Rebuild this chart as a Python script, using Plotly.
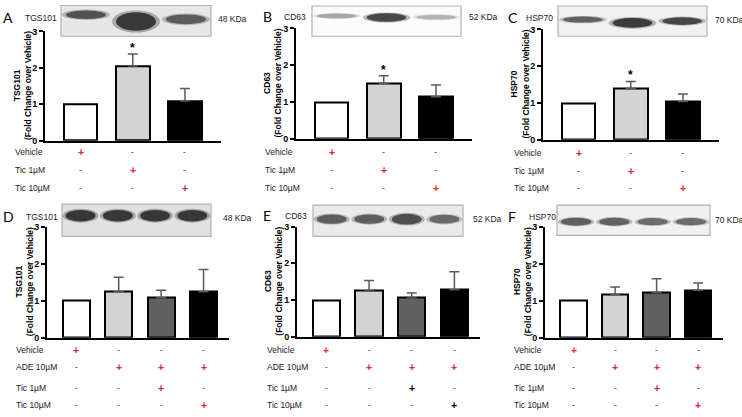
import plotly.graph_objects as go

W, H = 742, 417
FONT = "Liberation Sans, Arial, sans-serif"
RED = "#e3262f"

# treatment design (rows = labels, columns = bars)
top_rows = ["Vehicle", "Tic 1µM", "Tic 10µM"]
top_design = [[1, 0, 0], [0, 1, 0], [0, 0, 1]]
bottom_rows = ["Vehicle", "ADE 10µM", "Tic 1µM", "Tic 10µM"]
bottom_design = [[1, 0, 0, 0], [0, 1, 1, 1], [0, 0, 1, 0], [0, 0, 0, 1]]

# fold change over vehicle (mean) and upper error (SEM)
tsg101_tic = [1.0, 2.05, 1.09]
tsg101_tic_err = [None, 0.33, 0.34]
cd63_tic = [1.0, 1.51, 1.14]
cd63_tic_err = [None, 0.20, 0.32]
hsp70_tic = [1.0, 1.39, 1.04]
hsp70_tic_err = [None, 0.19, 0.20]
tic_signif = [False, True, False]

tsg101_ade = [1.0, 1.25, 1.08, 1.24]
tsg101_ade_err = [None, 0.38, 0.20, 0.60]
cd63_ade = [1.0, 1.25, 1.06, 1.28]
cd63_ade_err = [None, 0.28, 0.13, 0.49]
hsp70_ade = [1.0, 1.17, 1.22, 1.28]
hsp70_ade_err = [None, 0.20, 0.37, 0.20]
ade_signif = [False, False, False, False]

fills = ["#ffffff", "#d3d3d3", "#606060", "#000000"]
top_fills = ["#ffffff", "#d3d3d3", "#000000"]


def px(x):
    return x / W


def py(y):
    return 1 - y / H


panels = [
    dict(letter="A", protein="TGS101", title="TSG101", kda="48 KDa",
         mean=tsg101_tic, err=tsg101_tic_err, sig=tic_signif,
         rows=top_rows, design=top_design, fills=top_fills,
         ax=(45, 221), ay=(139, 27), rng=(-0.68, 2.69), bw=0.65,
         blot=(61, 211, 0.5, 32), rows_y=[151, 169, 187], label_x=13,
         letter_xy=(1, 13), prot_xy=(23, 13), kda_xy=(216, 14),
         bg="#b3b3b3", bands=[("#3a3a3a", 0.3, 0.28), ("#1c1c1c", 0.52, 0.6), ("#464646", 0.45, 0.32)]),
    dict(letter="B", protein="CD63", title="CD63", kda="52 KDa",
         mean=cd63_tic, err=cd63_tic_err, sig=tic_signif,
         rows=top_rows, design=top_design, fills=top_fills,
         ax=(296, 472), ay=(137, 24), rng=(-0.68, 2.69), bw=0.65,
         blot=(312, 461, 1, 32), rows_y=[151, 169, 187], label_x=263,
         letter_xy=(261, 12), prot_xy=(282, 12), kda_xy=(467, 12),
         bg="#f2f2f2", bands=[("#9a9a9a", 0.33, 0.16), ("#2a2a2a", 0.38, 0.28), ("#a8a8a8", 0.37, 0.16)]),
    dict(letter="C", protein="HSP70", title="HSP70", kda="70 KDa",
         mean=hsp70_tic, err=hsp70_tic_err, sig=tic_signif,
         rows=top_rows, design=top_design, fills=top_fills,
         ax=(543, 719), ay=(138, 25), rng=(-0.68, 2.69), bw=0.65,
         blot=(558, 707, 1, 32), rows_y=[152, 170, 188], label_x=512,
         letter_xy=(506, 13), prot_xy=(524, 13), kda_xy=(713, 15),
         bg="#d2d2d2", bands=[("#4a4a4a", 0.45, 0.2), ("#1e1e1e", 0.56, 0.32), ("#2c2c2c", 0.5, 0.25)]),
    dict(letter="D", protein="TGS101", title="TSG101", kda="48 KDa",
         mean=tsg101_ade, err=tsg101_ade_err, sig=ade_signif,
         rows=bottom_rows, design=bottom_design, fills=fills,
         ax=(47, 229), ay=(341, 227), rng=(-0.69, 3.6), bw=0.64,
         blot=(62, 211, 204, 237), rows_y=[353, 371, 392, 410], label_x=14,
         letter_xy=(1, 217), prot_xy=(24, 217), kda_xy=(221, 218),
         bg="#9d9d9d", bands=[("#1c1c1c", 0.36, 0.36)] * 4),
    dict(letter="E", protein="CD63", title="CD63", kda="52 KDa",
         mean=cd63_ade, err=cd63_ade_err, sig=ade_signif,
         rows=bottom_rows, design=bottom_design, fills=fills,
         ax=(297, 480), ay=(340, 227), rng=(-0.69, 3.6), bw=0.64,
         blot=(313, 463, 205, 237), rows_y=[353, 371, 392, 410], label_x=265,
         letter_xy=(261, 216), prot_xy=(283, 216), kda_xy=(471, 219),
         plus_black_rows=[2, 3],
         bg="#bdbdbd", bands=[("#474747", 0.45, 0.3), ("#474747", 0.45, 0.3), ("#333333", 0.45, 0.34), ("#555555", 0.45, 0.28)]),
    dict(letter="F", protein="HSP70", title="HSP70", kda="70 KDa",
         mean=hsp70_ade, err=hsp70_ade_err, sig=ade_signif,
         rows=bottom_rows, design=bottom_design, fills=fills,
         ax=(545, 723), ay=(341, 227), rng=(-0.69, 3.6), bw=0.64,
         blot=(557, 710, 205, 236), rows_y=[353, 371, 392, 410], label_x=512,
         letter_xy=(506, 217), prot_xy=(527, 217), kda_xy=(713, 220),
         bg="#d0d0d0", bands=[("#484848", 0.55, 0.26), ("#4a4a4a", 0.55, 0.26), ("#555555", 0.55, 0.24), ("#555555", 0.55, 0.24)]),
]

fig = go.Figure()
annotations = []
shapes = []
layout = {}

for i, p in enumerate(panels, start=1):
    xa = "x" if i == 1 else f"x{i}"
    ya = "y" if i == 1 else f"y{i}"
    n = len(p["mean"])
    idx = list(range(n))

    fig.add_trace(go.Bar(
        x=idx, y=p["mean"], xaxis=xa, yaxis=ya, width=p["bw"],
        marker=dict(color=p["fills"][:n], line=dict(color="black", width=2)),
        showlegend=False, hoverinfo="skip",
    ))
    # error bars only where there is an error (vehicle is the normaliser)
    err_x = [j for j in idx if p["err"][j] is not None]
    fig.add_trace(go.Scatter(
        x=err_x, y=[p["mean"][j] for j in err_x], xaxis=xa, yaxis=ya,
        mode="markers", marker=dict(size=1, color="rgba(0,0,0,0)"),
        error_y=dict(type="data", symmetric=False,
                     array=[p["err"][j] for j in err_x],
                     arrayminus=[0] * len(err_x),
                     color="#5a5a5a", thickness=1.5, width=5),
        showlegend=False, hoverinfo="skip",
    ))

    layout[f"xaxis{'' if i == 1 else i}"] = dict(
        domain=[px(p["ax"][0]), px(p["ax"][1])], range=list(p["rng"]),
        anchor=ya, showline=True, linecolor="black", linewidth=2,
        showticklabels=False, ticks="", showgrid=False, zeroline=False, fixedrange=True,
    )
    layout[f"yaxis{'' if i == 1 else i}"] = dict(
        domain=[py(p["ay"][0]), py(p["ay"][1])], range=[0, 3],
        anchor=xa, showline=True, linecolor="black", linewidth=2,
        ticks="outside", ticklen=4, tickwidth=2, tickcolor="black",
        tickvals=[0, 1, 2, 3], tickfont=dict(family=FONT, size=9, color="black", weight="bold"),
        showgrid=False, zeroline=False, fixedrange=True,
    )

    # y axis title
    annotations.append(dict(
        xref="paper", yref="paper", x=px(p["ax"][0] - 23), y=py((p["ay"][0] + p["ay"][1]) / 2),
        text=f"<b>{p['title']}<br>(Fold Change over Vehicle)</b>", textangle=-90,
        showarrow=False, font=dict(family=FONT, size=8.5, color="black"),
        xanchor="center", yanchor="middle",
    ))

    # significance
    for j in idx:
        if p["sig"][j]:
            annotations.append(dict(
                xref=xa, yref=ya, x=j, y=p["mean"][j] + p["err"][j] + 0.17,
                text="<b>*</b>", showarrow=False, font=dict(family=FONT, size=12, color="black"),
                yanchor="middle",
            ))

    # treatment table
    for r, label in enumerate(p["rows"]):
        yy = py(p["rows_y"][r])
        annotations.append(dict(
            xref="paper", yref="paper", x=px(p["label_x"]), y=yy, text=label,
            showarrow=False, xanchor="left", yanchor="middle",
            font=dict(family=FONT, size=8.5, color="#222"),
        ))
        for j in idx:
            on = p["design"][r][j]
            col = RED
            if on and r in p.get("plus_black_rows", []):
                col = "black"
            annotations.append(dict(
                xref=xa, yref="paper", x=j, y=yy, text="<b>+</b>" if on else "-",
                showarrow=False, xanchor="center", yanchor="middle",
                font=dict(family=FONT, size=10.5 if on else 8.5, color=col if on else "#333"),
            ))

    # panel letter, blot labels
    lx, ly = p["letter_xy"]
    annotations.append(dict(
        xref="paper", yref="paper", x=px(lx), y=py(ly), text=p["letter"], showarrow=False,
        xanchor="left", yanchor="middle", font=dict(family="Lato, sans-serif", size=14, color="black"),
    ))
    annotations.append(dict(
        xref="paper", yref="paper", x=px(p["prot_xy"][0]), y=py(p["prot_xy"][1]), text=p["protein"],
        showarrow=False, xanchor="left", yanchor="middle", font=dict(family=FONT, size=8.5, color="#222"),
    ))
    annotations.append(dict(
        xref="paper", yref="paper", x=px(p["kda_xy"][0]), y=py(p["kda_xy"][1]), text=p["kda"],
        showarrow=False, xanchor="left", yanchor="middle", font=dict(family=FONT, size=8.5, color="#222"),
    ))

    # western blot strip (decorative stand-in for the gel image)
    bx0, bx1, by0, by1 = p["blot"]
    bw, bh = bx1 - bx0, by1 - by0
    shapes.append(dict(type="rect", xref="paper", yref="paper",
                       x0=px(bx0), x1=px(bx1), y0=py(by1), y1=py(by0),
                       fillcolor=p["bg"], line=dict(color="black", width=1.2), layer="above"))
    nl = len(p["bands"])
    for k, (shade, cy, hh) in enumerate(p["bands"]):
        cx = bx0 + bw * (k + 0.5) / nl
        half = bw * 0.4 / nl
        ymid = by0 + bh * cy
        for scale, op in [(1.2, 0.3), (1.0, 0.8)]:
            shapes.append(dict(type="circle", xref="paper", yref="paper",
                               x0=px(cx - half * scale), x1=px(cx + half * scale),
                               y0=py(ymid + bh * hh / 2 * scale), y1=py(ymid - bh * hh / 2 * scale),
                               fillcolor=shade, opacity=op, line=dict(width=0), layer="above"))

fig.update_layout(
    width=W, height=H,
    margin=dict(l=0, r=0, t=0, b=0),
    template="simple_white",
    paper_bgcolor="white", plot_bgcolor="rgba(0,0,0,0)",
    annotations=annotations, shapes=shapes,
    bargap=0, showlegend=False,
    **layout,
)

fig.write_html("out.html", config={"displayModeBar": False},
               post_script="document.body.style.margin='0';")
